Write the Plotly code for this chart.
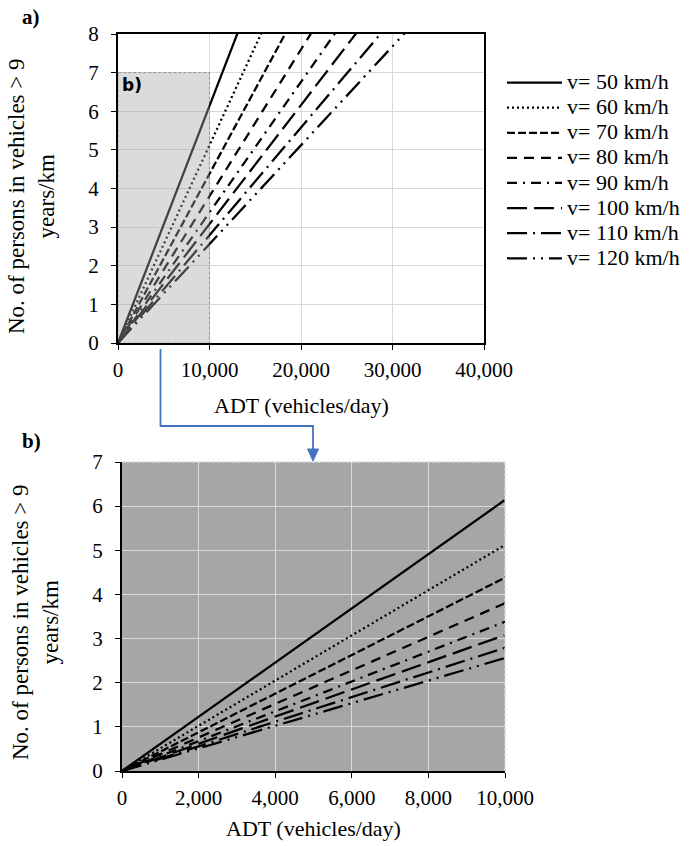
import plotly.graph_objects as go

# ---------------- data ----------------
speed_labels = ["v= 50 km/h", "v= 60 km/h", "v= 70 km/h", "v= 80 km/h",
                "v= 90 km/h", "v= 100 km/h", "v= 110 km/h", "v= 120 km/h"]
adt = [0, 10000, 40000]
v50 = [0, 6.14, 24.56]
v60 = [0, 5.12, 20.48]
v70 = [0, 4.38, 17.52]
v80 = [0, 3.80, 15.20]
v90 = [0, 3.38, 13.52]
v100 = [0, 3.08, 12.32]
v110 = [0, 2.79, 11.16]
v120 = [0, 2.56, 10.24]
series = [v50, v60, v70, v80, v90, v100, v110, v120]

x_ticks_a = [0, 10000, 20000, 30000, 40000]
x_ticks_b = [0, 2000, 4000, 6000, 8000, 10000]

# ---------------- styles ----------------
dashes = ["solid", "2px,3px", "8px,3px", "10px,7px", "10px,6px,2px,6px",
          "20px,7px", "20px,6px,2px,6px", "20px,6px,2px,6px,2px,6px"]
SERIF = "Liberation Serif, Times New Roman, serif"
W, H = 690, 846

def px_x(p):
    return p / W

def px_y(p):
    return 1 - p / H

fig = go.Figure()
for name, ys, d in zip(speed_labels, series, dashes):
    fig.add_trace(go.Scatter(x=adt, y=ys, mode="lines",
                             name=f"<span style='font-size:22px'>{name}</span>",
                             legendgroup=name,
                             line=dict(color="black", width=2.25, dash=d),
                             xaxis="x", yaxis="y", hoverinfo="skip"))
    fig.add_trace(go.Scatter(x=adt, y=ys, mode="lines", name=name,
                             legendgroup=name, showlegend=False,
                             line=dict(color="black", width=2.25, dash=d),
                             xaxis="x2", yaxis="y2", hoverinfo="skip"))

ytitle = "No. of persons in vehicles > 9<br>years/km"
xtitle = "ADT (vehicles/day)"
axis_common = dict(ticks="outside", ticklen=5, tickcolor="black", tickwidth=1,
                   tickfont=dict(family=SERIF, size=21, color="black"),
                   gridcolor="#d9d9d9", gridwidth=1.3, zeroline=False,
                   linecolor="black", linewidth=2, automargin=False)

fig.update_layout(
    width=W, height=H,
    margin=dict(l=0, r=0, t=0, b=0, autoexpand=False),
    paper_bgcolor="white", plot_bgcolor="white",
    showlegend=True,
    legend=dict(x=px_x(502), y=px_y(65), xanchor="left", yanchor="top",
                font=dict(family=SERIF, size=17, color="black"),
                itemwidth=55, bgcolor="rgba(0,0,0,0)", tracegroupgap=0),
    xaxis=dict(domain=[px_x(118), px_x(484)], anchor="y", range=[0, 40000],
               tickvals=x_ticks_a, tickformat=",", showline=True, mirror=True,
               ticklabelstandoff=2, **axis_common),
    yaxis=dict(domain=[px_y(343), px_y(34)], anchor="x", range=[0, 8], dtick=1,
               showline=True, mirror=True, ticklabelstandoff=8, **axis_common),
    xaxis2=dict(domain=[px_x(122), px_x(505)], anchor="y2", range=[0, 10000],
                tickvals=x_ticks_b, tickformat=",", showline=True,
                ticklabelstandoff=2, **axis_common),
    yaxis2=dict(domain=[px_y(771), px_y(462)], anchor="x2", range=[0, 7], dtick=1,
                showline=True, ticklabelstandoff=8, **axis_common),
)

shapes = []
# grey background of panel b
shapes.append(dict(type="rect", xref="x2 domain", yref="y2 domain",
                   x0=0, x1=1, y0=0, y1=1, fillcolor="#a6a6a6",
                   line=dict(width=0), layer="below"))
# dashed top/right border of panel b
shapes.append(dict(type="line", xref="x2 domain", yref="y2 domain",
                   x0=0, x1=1, y0=1, y1=1,
                   line=dict(color="#d9d9d9", width=1.5, dash="3px,2px")))
shapes.append(dict(type="line", xref="x2 domain", yref="y2 domain",
                   x0=1, x1=1, y0=0, y1=1,
                   line=dict(color="#d9d9d9", width=1.5, dash="3px,2px")))
# zoom region overlay in panel a
shapes.append(dict(type="rect", xref="x", yref="y", x0=0, x1=10000, y0=0, y1=7,
                   fillcolor="#a6a6a6", opacity=0.4, layer="above",
                   line=dict(color="#404040", width=1.2, dash="3px,2px")))
# blue connector
blue = "#4472c4"
shapes.append(dict(type="path", xref="paper", yref="paper",
                   path=f"M {px_x(160.5)},{px_y(349)} L {px_x(160.5)},{px_y(426)} "
                        f"L {px_x(313)},{px_y(426)} L {px_x(313)},{px_y(451)}",
                   line=dict(color=blue, width=1.8)))
shapes.append(dict(type="path", xref="paper", yref="paper",
                   path=f"M {px_x(307.5)},{px_y(449)} L {px_x(318.5)},{px_y(449)} "
                        f"L {px_x(313)},{px_y(461)} Z",
                   fillcolor=blue, line=dict(color=blue, width=1)))
fig.update_layout(shapes=shapes)

title_font = dict(family=SERIF, size=22, color="black")
fig.update_layout(annotations=[
    dict(text="<b>a)</b>", xref="paper", yref="paper", x=px_x(20), y=px_y(3),
         xanchor="left", yanchor="top", showarrow=False,
         font=dict(family=SERIF, size=21, color="black")),
    dict(text="<b>b)</b>", xref="paper", yref="paper", x=px_x(20), y=px_y(427),
         xanchor="left", yanchor="top", showarrow=False,
         font=dict(family=SERIF, size=21, color="black")),
    dict(text="<b>b)</b>", xref="x", yref="y", x=0, y=7, xshift=2,
         xanchor="left", yanchor="top", showarrow=False,
         font=dict(family="DejaVu Sans, sans-serif", size=17, color="black")),
    # axis titles
    dict(text=xtitle, xref="paper", yref="paper", x=px_x(301), y=px_y(405),
         xanchor="center", yanchor="middle", showarrow=False, font=title_font),
    dict(text=xtitle, xref="paper", yref="paper", x=px_x(313), y=px_y(828),
         xanchor="center", yanchor="middle", showarrow=False, font=title_font),
    dict(text=ytitle, xref="paper", yref="paper", x=px_x(31), y=px_y(196),
         xanchor="center", yanchor="middle", textangle=-90, showarrow=False,
         font=dict(family=SERIF, size=23, color="black")),
    dict(text=ytitle, xref="paper", yref="paper", x=px_x(35), y=px_y(622),
         xanchor="center", yanchor="middle", textangle=-90, showarrow=False,
         font=dict(family=SERIF, size=23, color="black")),
])

fig.write_html("out.html", config={"displayModeBar": False},
               post_script="document.body.style.margin='0px';")
